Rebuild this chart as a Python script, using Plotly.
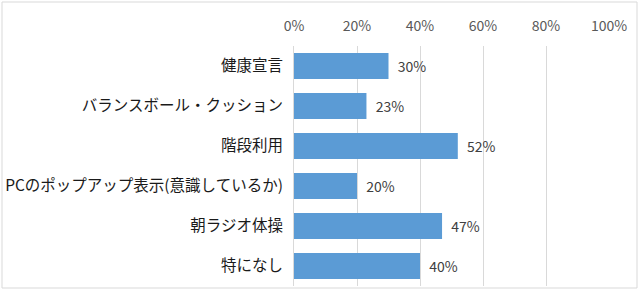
import plotly.graph_objects as go

categories = ["健康宣言", "バランスボール・クッション", "階段利用",
              "PCのポップアップ表示(意識しているか)", "朝ラジオ体操", "特になし"]
values = [0.30, 0.23, 0.52, 0.20, 0.47, 0.40]
tick_vals = [0, 0.2, 0.4, 0.6, 0.8, 1.0]
tick_text = ["0%", "20%", "40%", "60%", "80%", "100%"]

FONT = "Noto Sans CJK JP"

fig = go.Figure(go.Bar(
    x=values, y=categories, orientation="h",
    marker=dict(color="#5B9BD5", line=dict(width=0)),
    texttemplate="  %{x:.0%}", textposition="outside",
    textfont=dict(family=FONT, size=14, color="#404040"),
    cliponaxis=False,
))

L, R, T, B = 294, 609, 46, 286
W, H = 640, 291

fig.update_layout(
    width=W, height=H,
    margin=dict(l=L, r=W - R, t=T, b=H - B, pad=0),
    paper_bgcolor="white", plot_bgcolor="white",
    bargap=0.35, showlegend=False,
    font=dict(family=FONT, size=15.5, color="#1a1a1a"),
    xaxis=dict(
        side="top", range=[0, 1], tickvals=tick_vals, ticktext=tick_text,
        showgrid=True, gridcolor="#d9d9d9", gridwidth=1, zeroline=False,
        showline=False, ticks="outside", ticklen=0, ticklabelstandoff=8,
        tickfont=dict(family=FONT, size=14, color="#595959"), fixedrange=True,
    ),
    yaxis=dict(
        autorange="reversed", showline=True, linecolor="#d9d9d9", linewidth=1,
        ticks="outside", ticklen=0, ticklabelstandoff=7,
        tickfont=dict(family=FONT, size=15.5, color="#1a1a1a"),
    ),
    shapes=[dict(
        type="rect", xref="paper", yref="paper",
        x0=(2 - L) / (R - L), x1=(637 - L) / (R - L),
        y0=(B - 288) / (B - T), y1=(B - 2) / (B - T),
        line=dict(color="#d9d9d9", width=1), fillcolor="rgba(0,0,0,0)", layer="below",
    )],
)

fig.write_html("out.html")
